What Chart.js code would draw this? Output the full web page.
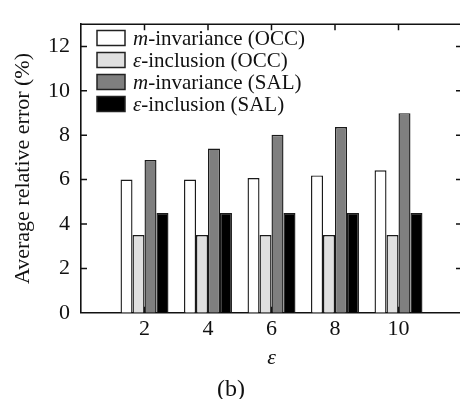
<!DOCTYPE html>
<html>
<head>
<meta charset="utf-8">
<script src="https://cdn.jsdelivr.net/npm/chart.js@4/dist/chart.umd.min.js"></script>
<style>
html,body{margin:0;padding:0;background:#fff;overflow:hidden;width:460px;height:399px;}
canvas{display:block;}
</style>
</head>
<body>
<canvas id="c" width="464" height="399" style="width:464px;height:399px"></canvas>
<script>
// ---- data ----
const epsilons = [2, 4, 6, 8, 10];
const mInvOCC = [6.0, 6.0, 6.07, 6.19, 6.42];
const epsIncOCC = [3.5, 3.5, 3.5, 3.5, 3.5];
const mInvSAL = [6.88, 7.4, 8.02, 8.37, 8.99];
const epsIncSAL = [4.5, 4.5, 4.5, 4.5, 4.5];
const seriesLabels = ['m-invariance (OCC)', 'ε-inclusion (OCC)', 'm-invariance (SAL)', 'ε-inclusion (SAL)'];
const yTicks = [0, 2, 4, 6, 8, 10, 12];

const FONT = "'Liberation Serif', 'Times New Roman', serif";
const fills = ['#ffffff', '#e0e0e0', '#7f7f7f', '#000000'];
const seriesValues = [mInvOCC, epsIncOCC, mInvSAL, epsIncSAL];

const datasets = seriesValues.map((vals, k) => ({
  label: seriesLabels[k],
  data: epsilons.map((e, i) => ({x: e, y: vals[i]})),
  backgroundColor: fills[k],
  borderColor: '#1a1a1a',
  borderWidth: 1.4,
  borderSkipped: 'bottom',
  categoryPercentage: 0.755,
  barPercentage: 1.0
}));

const frame = {
  id: 'frame',
  beforeDatasetsDraw(chart) {
    const {ctx, chartArea: a, scales: {x}} = chart;
    ctx.save();
    ctx.strokeStyle = '#111';
    ctx.lineWidth = 1.5;
    ctx.beginPath();
    epsilons.forEach(e => { const px = x.getPixelForValue(e); ctx.moveTo(px, a.bottom); ctx.lineTo(px, a.bottom - 6); });
    ctx.stroke();
    ctx.restore();
  },
  afterDraw(chart) {
    const {ctx, chartArea: a, scales: {x, y}} = chart;
    ctx.save();
    ctx.strokeStyle = '#111';
    ctx.lineWidth = 1.6;
    ctx.beginPath();
    ctx.moveTo(a.left, a.top); ctx.lineTo(a.right, a.top); ctx.lineTo(a.right, a.bottom);
    ctx.stroke();
    ctx.beginPath();
    ctx.lineWidth = 1.5;
    epsilons.forEach(e => { const px = x.getPixelForValue(e); ctx.moveTo(px, a.top); ctx.lineTo(px, a.top + 6); });
    yTicks.forEach(v => {
      if (v === 0) return;
      const py = y.getPixelForValue(v);
      ctx.moveTo(a.left, py); ctx.lineTo(a.left + 6, py);
      ctx.moveTo(a.right, py); ctx.lineTo(a.right - 6, py);
    });
    ctx.stroke();

    // custom legend with italic prefix
    const bx = a.left + 16, bw = 28, bh = 15, rowH = 22, y0 = 38;
    chart.data.datasets.forEach((ds, k) => {
      const cy = y0 + k * rowH;
      ctx.fillStyle = ds.backgroundColor;
      ctx.fillRect(bx, cy - bh / 2, bw, bh);
      ctx.strokeStyle = '#222';
      ctx.lineWidth = 1.5;
      ctx.strokeRect(bx, cy - bh / 2, bw, bh);
      const lbl = ds.label;
      const idx = lbl.indexOf('-');
      const pre = lbl.slice(0, idx), rest = lbl.slice(idx);
      ctx.fillStyle = '#111';
      ctx.textBaseline = 'middle';
      ctx.textAlign = 'left';
      let tx = bx + bw + 8;
      ctx.font = 'italic 21px ' + FONT;
      ctx.fillText(pre, tx, cy + 1);
      tx += ctx.measureText(pre).width;
      ctx.font = '21px ' + FONT;
      ctx.fillText(rest, tx, cy + 1);
    });
    ctx.restore();
  }
};

new Chart(document.getElementById('c'), {
  type: 'bar',
  data: {datasets},
  options: {
    responsive: false,
    animation: false,
    events: [],
    layout: {padding: {left: 0, right: 2, top: 13, bottom: 0}},
    plugins: {
      legend: {display: false},
      tooltip: {enabled: false},
      subtitle: {
        display: true, position: 'bottom', text: '(b)', color: '#111',
        font: {family: FONT, size: 24, weight: 'normal', lineHeight: 0.8},
        padding: {top: 0, bottom: 0}
      }
    },
    scales: {
      x: {
        type: 'linear', min: 0, max: 12, offset: false,
        afterFit(s) { s.height = 67; },
        grid: {display: false, drawTicks: false},
        border: {display: true, color: '#111', width: 1.6},
        afterBuildTicks(s) { s.ticks = epsilons.map(v => ({value: v})); },
        ticks: {color: '#111', padding: 3, font: {family: FONT, size: 22}, callback: v => String(v)},
        title: {display: true, text: 'ε', color: '#111', font: {family: FONT, size: 22, style: 'italic'}, padding: {top: 0, bottom: 8}}
      },
      y: {
        min: 0, max: 13,
        afterFit(s) { s.width = 81; },
        grid: {display: false, drawTicks: false},
        border: {display: true, color: '#111', width: 1.6},
        afterBuildTicks(s) { s.ticks = yTicks.map(v => ({value: v})); },
        ticks: {color: '#111', padding: 11, font: {family: FONT, size: 22}},
        title: {display: true, text: 'Average relative error (%)', color: '#111', font: {family: FONT, size: 22}, padding: {top: 10, bottom: 0}}
      }
    }
  },
  plugins: [frame]
});
</script>
</body>
</html>
